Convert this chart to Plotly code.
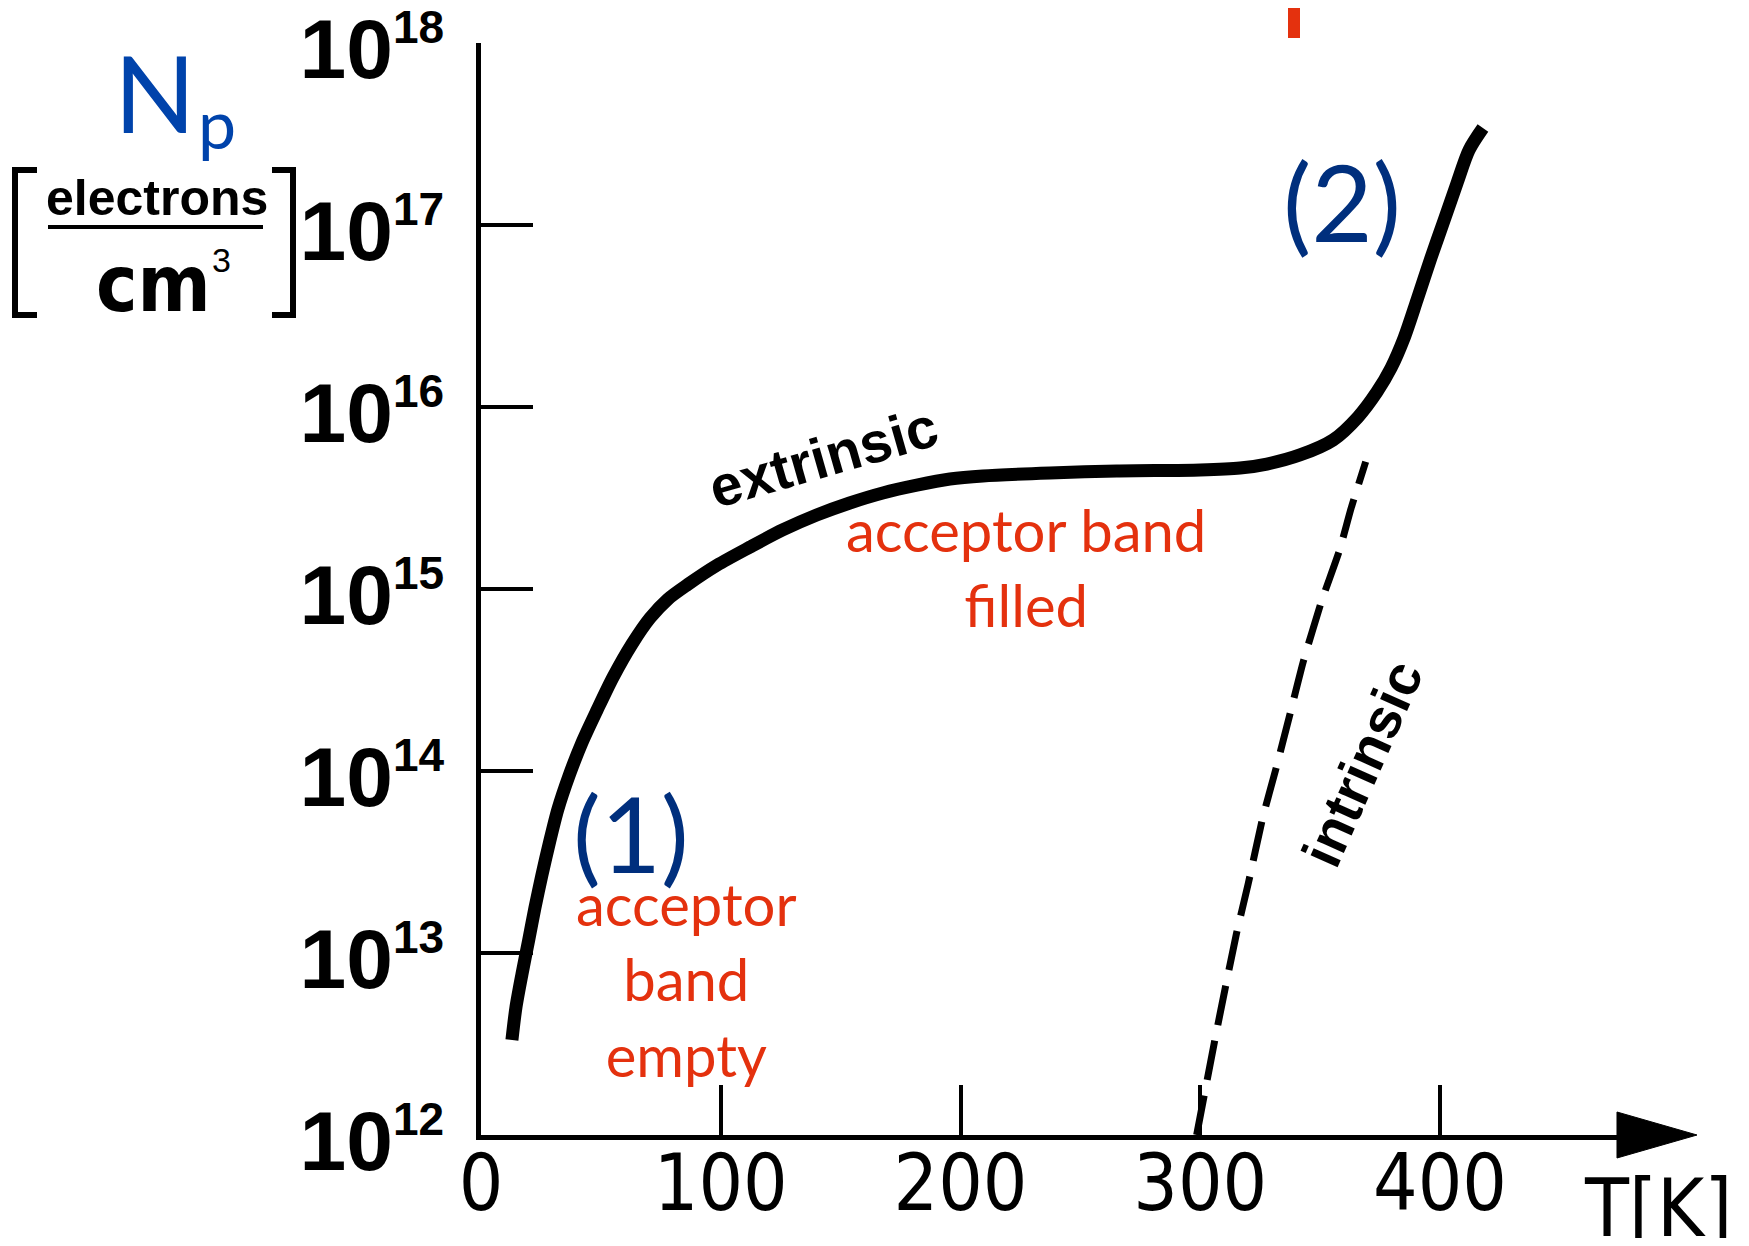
import plotly.graph_objects as go

# ---------------- data ----------------
T_extrinsic = [12.9, 14.6, 17.1, 19.8, 22.5, 25.4, 28.6, 32.1, 36.7, 42.1, 48.4, 55.1,
               63.0, 70.5, 78.0, 86.3, 98.4, 112.2, 125.8, 140.0, 153.8, 167.6, 181.8,
               195.6, 209.3, 237.3, 265.2, 300.0, 316.6, 327.8, 341.6, 355.4, 365.8,
               373.7, 379.6, 385.0, 390.4, 396.2, 401.7, 407.1, 412.1, 417.9]
N_extrinsic = [3.33e12, 5.05e12, 7.67e12, 1.16e13, 1.77e13, 2.68e13, 4.07e13, 6.18e13,
               9.4e13, 1.43e14, 2.16e14, 3.28e14, 4.99e14, 6.93e14, 8.81e14, 1.06e15,
               1.35e15, 1.70e15, 2.11e15, 2.55e15, 2.97e15, 3.37e15, 3.72e15, 4.02e15,
               4.18e15, 4.34e15, 4.45e15, 4.51e15, 4.62e15, 4.86e15, 5.45e15, 6.59e15,
               8.81e15, 1.21e16, 1.64e16, 2.39e16, 3.87e16, 6.59e16, 1.06e17, 1.70e17,
               2.58e17, 3.41e17]

T_intrinsic = [298.5, 306.5, 315, 320, 326, 331.5, 337, 343, 350.5, 358, 363, 369]
N_intrinsic = [1.0e12, 3.55e12, 1.26e13, 2.4e13, 5.5e13, 1.02e14, 1.95e14, 4.0e14,
               8.5e14, 1.62e15, 2.8e15, 5.0e15]

x_tickvals = [0, 100, 200, 300, 400]
x_ticktext = ["0", "100", "200", "300", "400"]
y_exponents = [12, 13, 14, 15, 16, 17, 18]

# ---------------- layout geometry (screen pixels) ----------------
OFF = 8                      # default page margin around the plot div
W, H = 1749 - 2 * OFF, 1246 - 2 * OFF
PL, PR, PT, PB = 481, 1680, 43, 1135
T_MAX = 500.1


def px(x):
    return (x - PL) / (PR - PL)


def py(y):
    return (PB - y) / (PB - PT)


RED = "#E4310E"
NAVY = "#002F7D"
BLUE = "#0043AB"
HAND = "Liberation Sans, Arial, sans-serif"
NARROW = "Liberation Sans Narrow, DejaVu Sans Condensed, Liberation Sans, sans-serif"
HUMAN = "Lato, Noto Sans, sans-serif"

fig = go.Figure()
fig.add_trace(go.Scatter(x=T_extrinsic, y=N_extrinsic, mode="lines",
                         line=dict(color="black", width=13, shape="spline", smoothing=0.8),
                         hoverinfo="skip"))
fig.add_trace(go.Scatter(x=T_intrinsic, y=N_intrinsic, mode="lines",
                         line=dict(color="black", width=7, dash="40px,16px", shape="spline",
                                   smoothing=0.5),
                         hoverinfo="skip"))

y_ticktext = ["10<sup><span style='font-size:46px'>%d</span></sup>" % e for e in y_exponents]

fig.update_layout(
    width=W, height=H,
    margin=dict(l=PL - OFF, r=W - (PR - OFF), t=PT - OFF, b=H - (PB - OFF), autoexpand=False),
    paper_bgcolor="white", plot_bgcolor="white",
    showlegend=False,
    xaxis=dict(range=[0, T_MAX], tickvals=x_tickvals, ticktext=x_ticktext,
               automargin=False, ticklabeloverflow="allow",
               showgrid=False, zeroline=False, showline=True, linecolor="black",
               linewidth=5, ticks="inside", ticklen=50, tickwidth=4, tickcolor="black",
               tickfont=dict(family=NARROW, size=78, color="black"),
               ticklabelstandoff=-24),
    yaxis=dict(type="log", range=[11.9999, 18.0001],
               tickvals=[10.0 ** e for e in y_exponents],
               ticktext=y_ticktext, automargin=False, ticklabeloverflow="allow",
               showgrid=False, zeroline=False, showline=True,
               linecolor="black", linewidth=5, ticks="inside", ticklen=52, tickwidth=4,
               tickcolor="black",
               tickfont=dict(family=HAND, size=84, color="black", weight="bold"),
               ticklabelstandoff=15, ticklabelshift=6),
)

ann = []


def text(t, x, y, size, color="black", family=HUMAN, angle=0, weight="normal",
         xanchor="center"):
    ann.append(dict(text=t, x=px(x), y=py(y), xref="paper", yref="paper",
                    showarrow=False, xanchor=xanchor, yanchor="middle",
                    textangle=angle,
                    font=dict(size=size, color=color, family=family, weight=weight)))


# axis title N_p and units
text("N", 155, 92, 107, BLUE)
text("p", 217, 123, 68, BLUE)
text("electrons", 157, 198, 50, family=HAND, weight="bold")
text("cm", 153, 284, 78, family=NARROW, weight="bold")
text("3", 221, 260, 34, family=HAND)
text("T[K]", 1582, 1208, 80, family=NARROW, xanchor="left")

# curve labels
text("extrinsic", 823, 457, 57, family=HAND, angle=-16, weight="bold")
text("intrinsic", 1362, 763, 56, family=HAND, angle=-66, weight="bold")

# red regime notes
text("acceptor band<br>filled", 1026, 567, 58, RED)
text("acceptor<br>band<br>empty", 686, 979, 58, RED)

# region markers
text("(1)", 631, 832, 104, NAVY)
text("(2)", 1342, 201, 106, NAVY)

fig.update_layout(annotations=ann)

shapes = []
lw = 6
# brackets around the unit
shapes.append(dict(type="path", xref="paper", yref="paper",
                   path="M %f,%f L %f,%f L %f,%f L %f,%f" % (px(37), py(170), px(15), py(170),
                                                             px(15), py(315), px(37), py(315)),
                   line=dict(color="black", width=lw)))
shapes.append(dict(type="path", xref="paper", yref="paper",
                   path="M %f,%f L %f,%f L %f,%f L %f,%f" % (px(272), py(170), px(293), py(170),
                                                             px(293), py(315), px(272), py(315)),
                   line=dict(color="black", width=lw)))
# fraction bar
shapes.append(dict(type="line", xref="paper", yref="paper", x0=px(48), x1=px(263),
                   y0=py(227), y1=py(227), line=dict(color="black", width=4)))
# arrow head of the T axis
shapes.append(dict(type="path", xref="paper", yref="paper",
                   path="M %f,%f L %f,%f L %f,%f Z" % (px(1617), py(1112), px(1697), py(1135),
                                                       px(1617), py(1158)),
                   fillcolor="black", line=dict(color="black", width=1)))
# cropped red glyph at the top edge
shapes.append(dict(type="rect", xref="paper", yref="paper", x0=px(1288), x1=px(1300),
                   y0=py(38), y1=py(OFF), fillcolor=RED, line=dict(width=0)))
fig.update_layout(shapes=shapes)

fig.write_html("out.html")
